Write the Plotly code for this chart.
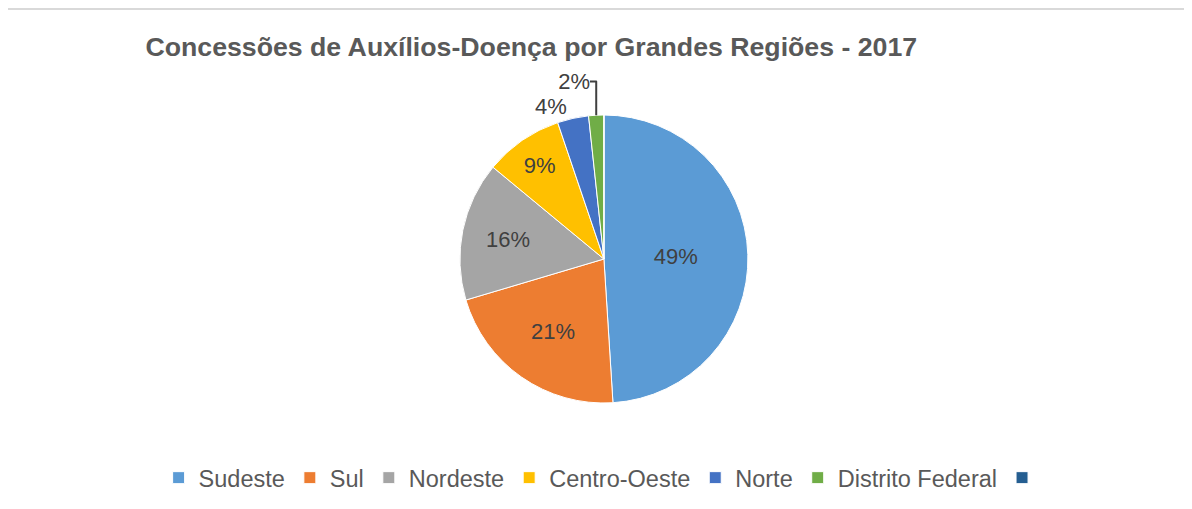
import plotly.graph_objects as go

categories = ["Sudeste", "Sul", "Nordeste", "Centro-Oeste", "Norte", "Distrito Federal", " "]
values = [49.0, 21.4, 15.6, 8.8, 3.5, 1.7, 0.0]
colors = ["#5B9BD5", "#ED7D31", "#A5A5A5", "#FFC000", "#4472C4", "#70AD47", "#255E91"]
text_pos = ["inside", "inside", "inside", "inside", "outside", "outside", "none"]
title_text = "Concessões de Auxílios-Doença por Grandes Regiões - 2017"

FONT = "Liberation Sans, Arial, sans-serif"

fig = go.Figure(go.Pie(
    labels=categories,
    values=values,
    marker=dict(colors=colors, line=dict(color="white", width=1)),
    sort=False,
    direction="clockwise",
    rotation=0,
    texttemplate="%{percent:.0%}",
    textposition=text_pos,
    insidetextorientation="horizontal",
    textfont=dict(family=FONT, size=22, color="#404040"),
    outsidetextfont=dict(family=FONT, size=22, color="#404040"),
    insidetextfont=dict(family=FONT, size=22, color="#404040"),
    domain=dict(x=[0, 0.989], y=[0, 1]),
    showlegend=True,
))

fig.update_layout(
    width=1192, height=509,
    paper_bgcolor="white",
    plot_bgcolor="white",
    margin=dict(l=0, r=8, t=107, b=114),
    title=dict(
        text="<b>" + title_text + "</b>",
        x=0.439, xanchor="center", y=0.925, yanchor="middle",
        font=dict(family=FONT, size=26.7, color="#595959"),
    ),
    legend=dict(
        orientation="h",
        x=-0.104, xanchor="left", y=-0.26, yanchor="middle",
        font=dict(family=FONT, size=23.5, color="#595959"),
        itemwidth=30, traceorder="normal",
    ),
    shapes=[
        dict(type="line", xref="paper", yref="paper", x0=-0.31, x1=1.5, y0=1.368, y1=1.368,
             line=dict(color="#D9D9D9", width=2)),
        dict(type="line", xref="paper", yref="paper", x0=-0.31, x1=-0.31, y0=1.368, y1=-0.5,
             line=dict(color="#D9D9D9", width=2)),
    ],
)

fig.write_html("out.html")
